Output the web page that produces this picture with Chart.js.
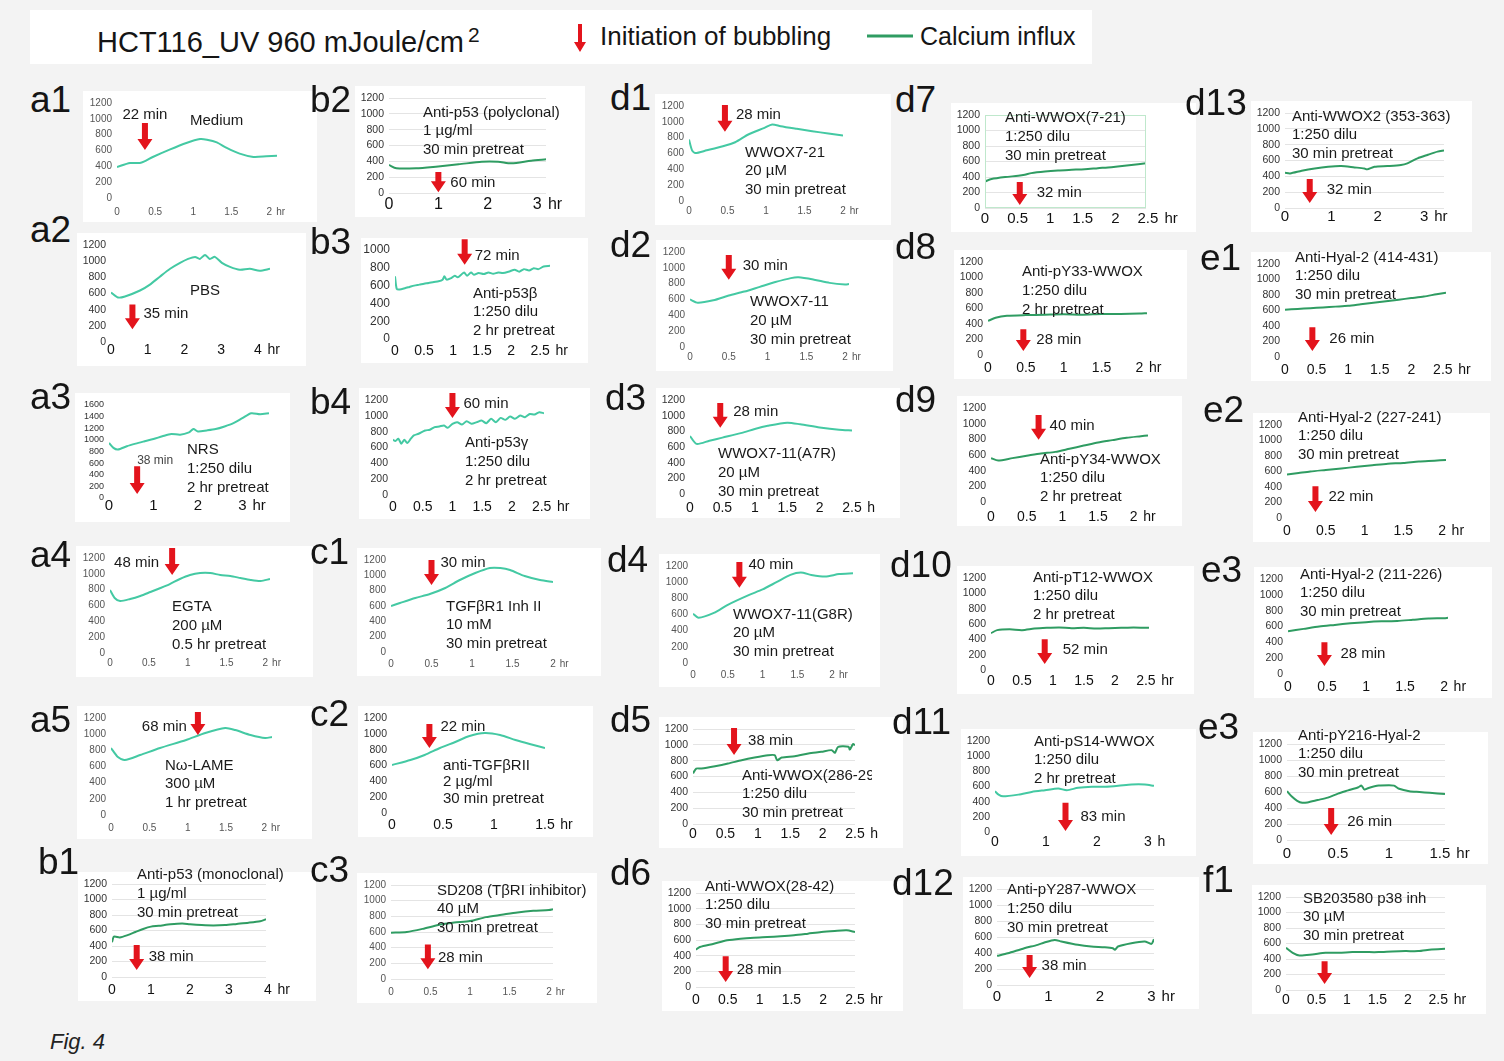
<!DOCTYPE html>
<html><head><meta charset="utf-8">
<script src="https://cdn.jsdelivr.net/npm/chart.js@4.4.1/dist/chart.umd.min.js"></script>
<style>
body{margin:0;width:1504px;height:1061px;background:#f3f3f3;position:relative;overflow:hidden;font-family:"Liberation Sans",Arial,sans-serif;color:#151515}
.card{position:absolute;background:#fff}
.lab{position:absolute;font-size:37px;line-height:37px;color:#151515}
.note{position:absolute;font-size:15px;white-space:nowrap;color:#1a1a1a;overflow:hidden}
canvas{position:absolute}
#head{position:absolute;left:30px;top:10px;width:1062px;height:54px;background:#fff}
</style></head><body>
<div id="head"></div>
<div style="position:absolute;left:97px;top:17px;font-size:29px;line-height:36px">HCT116_UV 960 mJoule/cm<sup style="font-size:21px;vertical-align:10px;margin-left:4px">2</sup></div>
<svg style="position:absolute;left:570px;top:22px" width="20" height="32"><path d="M8 2 H12 V20 H16 L10 30 L4 20 H8 Z" fill="#e3141c"/></svg>
<div style="position:absolute;left:600px;top:20px;font-size:26px;line-height:32px">Initiation of bubbling</div>
<svg style="position:absolute;left:866px;top:30px" width="48" height="12"><line x1="1" y1="6" x2="47" y2="6" stroke="#2f9c62" stroke-width="3"/></svg>
<div style="position:absolute;left:920px;top:20px;font-size:25px;line-height:32px">Calcium influx</div>
<div style="position:absolute;left:50px;top:1029px;font-size:22px;font-style:italic;color:#222">Fig. 4</div>
<script>
// ---------- calcium influx traces: time (hr) and fluorescence ----------
const a1Hr = [0,0.17,0.3,0.36,0.47,0.69,0.91,1.09,1.18,1.31,1.44,1.61,1.79,1.96,2.1];
const a1Ca = [392,442,442,463,518,611,695,745,737,703,632,560,518,526,535];
const a2Hr = [0,0.19,0.38,0.79,1.06,1.33,1.61,1.88,2.1,2.29,2.42,2.56,2.69,2.83,3.02,3.24,3.51,3.78,4.05,4.33];
const a2Ca = [612,551,563,637,710,808,906,979,1028,1053,1028,1077,1028,1053,979,930,894,906,881,906];
const a3Hr = [0,0.1,0.2,0.4,0.6,0.8,1.0,1.2,1.4,1.6,1.8,1.9,2.0,2.2,2.4,2.6,2.8,3.0,3.2,3.4,3.6];
const a3Ca = [947,862,834,891,936,976,1015,1061,1101,1089,1129,1186,1146,1163,1186,1231,1288,1373,1458,1441,1458];
const a4Hr = [0,0.06,0.13,0.26,0.39,0.52,0.65,0.77,0.9,1.03,1.16,1.29,1.42,1.55,1.68,1.81,1.94,2.06];
const a4Ca = [796,695,657,682,720,770,821,871,935,985,1010,1010,985,973,947,922,909,935];
const a5Hr = [0,0.09,0.18,0.38,0.64,0.98,1.23,1.49,1.62,1.82,2.01,2.1];
const a5Ca = [829,717,680,742,829,928,1014,1076,1051,990,952,965];
const b1Hr = [0,0.05,0.2,0.4,0.6,0.8,1.0,1.2,1.5,1.8,2.0,2.3,2.6,2.9,3.2,3.5,3.8,3.95];
const b1Ca = [450,520,510,540,580,620,650,660,680,690,680,670,665,670,685,700,720,745];
const b2Hr = [0,0.15,0.55,0.95,1.41,1.88,2.21,2.48,2.88,3.18];
const b2Ca = [354,312,312,333,362,396,396,375,408,425];
const b3Hr = [0,0.03,0.08,0.17,0.25,0.33,0.42,0.5,0.58,0.67,0.75,0.82,0.85,0.89,0.97,1.03,1.08,1.14,1.19,1.24,1.31,1.36,1.44,1.53,1.61,1.69,1.78,1.86,1.97,2.06,2.14,2.22,2.31,2.39,2.47,2.56,2.67];
const b3Ca = [704,563,556,570,585,600,611,622,630,641,648,667,704,667,685,711,693,722,748,711,748,722,741,730,748,733,748,741,759,778,756,785,770,796,785,815,822];
const b4Hr = [0,0.04,0.09,0.14,0.19,0.24,0.3,0.35,0.43,0.54,0.62,0.7,0.78,0.86,0.92,1.0,1.08,1.16,1.24,1.32,1.41,1.49,1.57,1.65,1.73,1.81,1.89,1.97,2.05,2.14,2.22,2.3,2.38,2.46,2.54];
const b4Ca = [698,681,711,648,698,656,711,753,774,815,824,857,866,878,849,899,920,890,932,899,920,941,907,962,920,974,949,991,962,1003,983,1024,1016,1045,1033];
const c1Hr = [0,0.11,0.3,0.48,0.67,0.85,1.04,1.22,1.35,1.47,1.65,1.84,2.0];
const c1Ca = [600,639,704,756,835,939,1030,1095,1095,1069,991,939,913];
const c2Hr = [0,0.18,0.32,0.47,0.62,0.76,0.91,1.06,1.21,1.35,1.5];
const c2Ca = [606,669,733,821,897,972,1010,985,922,871,821];
const c3Hr = [0,0.2,0.4,0.6,0.8,1.0,1.2,1.4,1.6,1.8,2.0,2.05];
const c3Ca = [590,600,640,690,720,740,790,820,850,870,880,890];
const d1Hr = [0,0.04,0.083,0.23,0.44,0.6,0.77,0.98,1.08,1.19,1.4,1.6,1.81,2.0];
const d1Ca = [776,640,606,640,691,742,840,924,967,945,912,882,852,827];
const d2Hr = [0,0.1,0.3,0.5,0.7,0.9,1.1,1.3,1.4,1.6,1.8,2.0,2.05];
const d2Ca = [600,560,590,650,700,760,820,870,880,850,810,790,795];
const d3Hr = [0,0.1,0.3,0.5,0.8,1.0,1.2,1.5,1.7,2.0,2.3,2.5];
const d3Ca = [740,640,680,720,780,830,870,910,890,850,820,810];
const d4Hr = [0,0.08,0.3,0.5,0.8,1.0,1.2,1.4,1.55,1.7,1.9,2.1,2.3];
const d4Ca = [610,560,620,720,840,910,1000,1090,1120,1090,1070,1100,1110];
const d5Hr = [0,0.05,0.13,0.34,0.54,0.75,0.95,1.16,1.26,1.3,1.37,1.57,1.78,1.98,2.14,2.19,2.24,2.4,2.42,2.47,2.5];
const d5Ca = [640,700,700,729,763,806,840,869,869,806,840,857,891,912,933,899,975,975,941,1009,996];
const d6Hr = [0,0.06,0.28,0.49,0.7,0.91,1.12,1.33,1.54,1.76,1.97,2.18,2.37,2.5];
const d6Ca = [477,511,553,596,617,630,638,647,660,681,702,715,723,702];
const d7Hr = [0,0.1,0.31,0.51,0.61,0.71,0.92,1.12,1.33,1.53,1.73,1.94,2.14,2.35,2.47];
const d7Ca = [343,373,399,416,429,450,471,484,493,501,514,527,544,566,579];
const d8Hr = [0,0.1,0.25,0.5,0.75,1.0,1.25,1.5,1.75,2.0,2.1];
const d8Ca = [440,480,505,515,520,525,520,530,530,535,540];
const d9Hr = [0,0.1,0.3,0.5,0.7,0.9,1.1,1.3,1.5,1.7,1.9,2.1,2.2];
const d9Ca = [560,530,560,590,620,640,680,720,760,790,820,840,850];
const d10Hr = [0,0.1,0.3,0.5,0.7,0.9,1.1,1.3,1.5,1.7,1.9,2.1,2.3,2.55];
const d10Ca = [480,520,530,520,540,550,555,545,550,540,545,550,555,550];
const d11Hr = [0,0.07,0.16,0.46,0.72,0.98,1.24,1.41,1.63,1.9,2.16,2.42,2.68,2.94,3.12];
const d11Ca = [537,493,470,493,528,551,573,551,582,596,596,609,627,627,609];
const d12Hr = [0,0.21,0.53,0.79,0.92,1.12,1.25,1.57,1.83,2.09,2.25,2.29,2.35,2.61,2.87,3.0,3.05];
const d12Ca = [364,397,460,502,531,564,544,502,481,472,460,440,481,523,544,514,573];
const d13Hr = [0,0.11,0.36,0.64,0.93,1.21,1.5,1.71,1.77,1.93,2.21,2.5,2.64,2.86,3.07,3.29,3.43];
const d13Ca = [445,437,471,500,521,530,513,500,488,521,530,543,564,627,670,712,725];
const e1Hr = [0,0.2,0.4,0.6,0.8,1.0,1.2,1.4,1.6,1.8,2.0,2.2,2.4,2.55];
const e1Ca = [610,620,630,640,650,660,680,700,720,740,760,780,810,830];
const e2Hr = [0,0.15,0.3,0.5,0.7,0.9,1.1,1.3,1.5,1.7,1.9,2.05];
const e2Ca = [560,580,600,620,640,660,680,700,710,730,740,750];
const e3Hr = [0,0.2,0.4,0.6,0.8,1.0,1.2,1.4,1.6,1.8,2.0,2.05];
const e3Ca = [540,570,600,620,640,655,665,670,685,700,705,710];
const e3bHr = [0,0.05,0.1,0.15,0.2,0.3,0.4,0.5,0.6,0.7,0.73,0.76,0.8,0.9,1.0,1.05,1.1,1.2,1.3,1.4,1.55];
const e3bCa = [610,540,490,465,470,500,530,580,620,660,680,630,650,680,685,680,640,610,600,590,575];
const f1Hr = [0,0.11,0.22,0.43,0.65,0.87,1.09,1.3,1.52,1.74,1.96,2.17,2.39,2.61];
const f1Ca = [545,480,445,458,480,480,489,489,489,497,502,502,524,532];

// ---------- x-axis tick values (hr) ----------
const T15 = [0,0.5,1,1.5];
const T2 = [0,0.5,1,1.5,2];
const T25 = [0,0.5,1,1.5,2,2.5];
const T3 = [0,1,2,3];
const T4 = [0,1,2,3,4];

// ---------- onset of membrane bubbling (min) ----------
const BUBBLING_MIN = [22,35,38,48,68,38, 60,72,60,30,22,28, 28,30,28,40,38,28, 32,28,40,52,83,38, 32,26,22,28,26,38];
const SHOW_MIN = BUBBLING_MIN.map((m, i) => i !== 29);

// ---------- treatment notes ----------
const NOTES = [
  ['Medium'], ['PBS'], ['NRS','1:250 dilu','2 hr pretreat'], ['EGTA','200 \u00b5M','0.5 hr pretreat'],
  ['N\u03c9-LAME','300 \u00b5M','1 hr pretreat'], ['Anti-p53 (monoclonal)','1 \u00b5g/ml','30 min pretreat'],
  ['Anti-p53 (polyclonal)','1 \u00b5g/ml','30 min pretreat'], ['Anti-p53\u03b2','1:250 dilu','2 hr pretreat'],
  ['Anti-p53\u03b3','1:250 dilu','2 hr pretreat'], ['TGF\u03b2R1 Inh II','10 mM','30 min pretreat'],
  ['anti-TGF\u03b2RII','2 \u00b5g/ml','30 min pretreat'], ['SD208 (T\u03b2RI inhibitor)','40 \u00b5M','30 min pretreat'],
  ['WWOX7-21','20 \u00b5M','30 min pretreat'], ['WWOX7-11','20 \u00b5M','30 min pretreat'],
  ['WWOX7-11(A7R)','20 \u00b5M','30 min pretreat'], ['WWOX7-11(G8R)','20 \u00b5M','30 min pretreat'],
  ['Anti-WWOX(286-299)','1:250 dilu','30 min pretreat'], ['Anti-WWOX(28-42)','1:250 dilu','30 min pretreat'],
  ['Anti-WWOX(7-21)','1:250 dilu','30 min pretreat'], ['Anti-pY33-WWOX','1:250 dilu','2 hr pretreat'],
  ['Anti-pY34-WWOX','1:250 dilu','2 hr pretreat'], ['Anti-pT12-WWOX','1:250 dilu','2 hr pretreat'],
  ['Anti-pS14-WWOX','1:250 dilu','2 hr pretreat'], ['Anti-pY287-WWOX','1:250 dilu','30 min pretreat'],
  ['Anti-WWOX2 (353-363)','1:250 dilu','30 min pretreat'], ['Anti-Hyal-2 (414-431)','1:250 dilu','30 min pretreat'],
  ['Anti-Hyal-2 (227-241)','1:250 dilu','30 min pretreat'], ['Anti-Hyal-2 (211-226)','1:250 dilu','30 min pretreat'],
  ['Anti-pY216-Hyal-2','1:250 dilu','30 min pretreat'], ['SB203580 p38 inh','30 \u00b5M','30 min pretreat']
];

// ---------- panel layout ----------
const TEAL = '#44c9a3', GREEN = '#2f9c62';
const SMALL = {xs:10, xcol:'#555', ys:10, ycol:'#555'};
const BIG = {xs:14, xcol:'#111', ys:10.5, ycol:'#333'};
const L = (o, st) => Object.assign({yMax:1200, unit:'hr', grid:false, ns:18.5, col:TEAL}, st, o);
const PANELS = [
  L({lab:'a1',lx:30,ly:100,x0:117,xEnd:269,y0:198,yTop:103,xt:T2,xc:212,hr:a1Hr,ca:a1Ca,av:[947,606],ml:[0,-8,'center'],nx:190,ny:120}, SMALL),
  L({lab:'a2',lx:30,ly:230,x0:111,xEnd:258,y0:342,yTop:245,xt:T4,xc:350,hr:a2Hr,ca:a2Ca,av:[465,159],ml:[11,9,'left'],nx:190,ny:290}, BIG),
  L({lab:'a3',lx:30,ly:397,x0:109,xEnd:242,y0:498,yTop:405,yMax:1600,xt:T3,xc:506,xs:15,ys:9,hr:a3Hr,ca:a3Ca,av:[545,68],ml:[0,-6,'left',12,'#444'],nx:187,ny:448,ns:19}, BIG),
  L({lab:'a4',lx:30,ly:555,x0:110,xEnd:265,y0:653,yTop:558,xt:T2,xc:663,hr:a4Hr,ca:a4Ca,av:[1326,985],ml:[-13,15,'right'],nx:172,ny:605,ns:19}, SMALL),
  L({lab:'a5',lx:30,ly:720,x0:111,xEnd:264,y0:815,yTop:718,xt:T2,xc:828,hr:a5Hr,ca:a5Ca,av:[1274,990],ml:[-11,15,'right'],nx:165,ny:765}, SMALL),
  L({lab:'b1',lx:38,ly:862,x0:112,xEnd:268,y0:977,yTop:884,xt:T4,xc:990,hr:b1Hr,ca:b1Ca,av:[413,90],ml:[12,12,'left'],nx:137,ny:873,ns:19,col:GREEN,grid:true}, BIG),
  L({lab:'b2',lx:310,ly:100,x0:389,xEnd:537,y0:193,yTop:98,xt:T3,xc:205,xs:16,hr:b2Hr,ca:b2Ca,av:[265,10],ml:[12,11,'left'],nx:423,ny:112,col:GREEN,grid:true}, BIG),
  L({lab:'b3',lx:310,ly:242,x0:395,xEnd:540,y0:339,yTop:250,yMax:1000,xt:T25,xc:351,ys:12,hr:b3Hr,ca:b3Ca,av:[1122,833],ml:[10,17,'left'],nx:473,ny:293}, BIG),
  L({lab:'b4',lx:310,ly:402,x0:393,xEnd:542,y0:495,yTop:400,xt:T25,xc:507,hr:b4Hr,ca:b4Ca,av:[1288,973],ml:[11,11,'left'],nx:465,ny:441,ns:19}, BIG),
  L({lab:'c1',lx:310,ly:552,x0:391,xEnd:553,y0:652,yTop:560,xt:T2,xc:664,hr:c1Hr,ca:c1Ca,av:[1200,874],ml:[9,3,'left'],nx:446,ny:606}, SMALL),
  L({lab:'c2',lx:310,ly:714,x0:392,xEnd:545,y0:813,yTop:718,xt:T15,xc:825,hr:c2Hr,ca:c2Ca,av:[1124,821],ml:[11,3,'left'],nx:443,ny:765,ns:16.5}, BIG),
  L({lab:'c3',lx:310,ly:870,x0:391,xEnd:549,y0:979,yTop:885,xt:T2,xc:992,hr:c3Hr,ca:c3Ca,av:[442,126],ml:[10,13,'left'],nx:437,ny:890,col:GREEN,grid:true}, SMALL),
  L({lab:'d1',lx:610,ly:98,x0:689,xEnd:843,y0:201,yTop:106,xt:T2,xc:211,hr:d1Hr,ca:d1Ca,av:[1212,875],ml:[11,10,'left'],nx:745,ny:152}, SMALL),
  L({lab:'d2',lx:610,ly:245,x0:690,xEnd:845,y0:347,yTop:252,xt:T2,xc:357,hr:d2Hr,ca:d2Ca,av:[1162,850],ml:[14,11,'left'],nx:750,ny:300,ns:19}, SMALL),
  L({lab:'d3',lx:605,ly:398,x0:690,xEnd:852,y0:494,yTop:400,xt:T25,xc:508,unit:'h',hr:d3Hr,ca:d3Ca,av:[1162,846],ml:[13,9,'left'],nx:718,ny:452,ns:19}, BIG),
  L({lab:'d4',lx:607,ly:560,x0:693,xEnd:832,y0:663,yTop:566,xt:T2,xc:675,hr:d4Hr,ca:d4Ca,av:[1249,931],ml:[9,3,'left'],nx:733,ny:614}, SMALL),
  L({lab:'d5',lx:610,ly:720,x0:693,xEnd:855,y0:824,yTop:729,xt:T25,xc:834,unit:'h',hr:d5Hr,ca:d5Ca,av:[1213,872],ml:[14,13,'left'],nx:742,ny:775,clip:872,col:GREEN,grid:true}, BIG),
  L({lab:'d6',lx:610,ly:873,x0:696,xEnd:855,y0:987,yTop:893,xt:T25,xc:1000,hr:d6Hr,ca:d6Ca,av:[392,63],ml:[11,14,'left'],nx:705,ny:886,col:GREEN,grid:true}, BIG),
  L({lab:'d7',lx:895,ly:100,x0:985,xEnd:1148,y0:208,yTop:115,xt:T25,xc:219,xs:15,hr:d7Hr,ca:d7Ca,av:[335,39],ml:[17,11,'left'],nx:1005,ny:116,ns:19,col:GREEN,grid:true,frame:true}, BIG),
  L({lab:'d8',lx:895,ly:247,x0:988,xEnd:1139,y0:355,yTop:262,xt:T2,xc:368,hr:d8Hr,ca:d8Ca,av:[332,51],ml:[13,11,'left'],nx:1022,ny:270,ns:19,col:GREEN}, BIG),
  L({lab:'d9',lx:895,ly:400,x0:991,xEnd:1134,y0:502,yTop:408,xt:T2,xc:517,hr:d9Hr,ca:d9Ca,av:[1112,796],ml:[11,11,'left'],nx:1040,ny:459,col:GREEN}, BIG),
  L({lab:'d10',lx:890,ly:565,x0:991,xEnd:1146,y0:670,yTop:578,xt:T25,xc:681,hr:d10Hr,ca:d10Ca,av:[400,77],ml:[18,11,'left'],nx:1033,ny:577,col:GREEN}, BIG),
  L({lab:'d11',lx:892,ly:722,x0:995,xEnd:1148,y0:832,yTop:741,xt:T3,xc:842,unit:'h',hr:d11Hr,ca:d11Ca,av:[387,13],ml:[15,14,'left'],nx:1034,ny:741}, BIG),
  L({lab:'d12',lx:892,ly:883,x0:997,xEnd:1151,y0:985,yTop:889,xt:T3,xc:997,xs:15,hr:d12Hr,ca:d12Ca,av:[375,88],ml:[12,11,'left'],nx:1007,ny:888,ns:19,col:GREEN,grid:true}, BIG),
  L({lab:'d13',lx:1185,ly:103,x0:1285,xEnd:1424,y0:208,yTop:113,xt:T3,xc:217,xs:15,hr:d13Hr,ca:d13Ca,av:[366,63],ml:[17,11,'left'],nx:1292,ny:116,col:GREEN,grid:true}, BIG),
  L({lab:'e1',lx:1200,ly:258,x0:1285,xEnd:1443,y0:357,yTop:264,xt:T25,xc:370,hr:e1Hr,ca:e1Ca,av:[383,77],ml:[17,12,'left'],nx:1295,ny:257,col:GREEN}, BIG),
  L({lab:'e2',lx:1203,ly:410,x0:1287,xEnd:1442,y0:518,yTop:425,xt:T2,xc:531,hr:e2Hr,ca:e2Ca,av:[409,77],ml:[13,11,'left'],nx:1298,ny:417,col:GREEN}, BIG),
  L({lab:'e3',lx:1201,ly:570,x0:1288,xEnd:1444,y0:674,yTop:579,xt:T2,xc:687,hr:e3Hr,ca:e3Ca,av:[400,100],ml:[16,12,'left'],nx:1300,ny:574,col:GREEN}, BIG),
  L({lab:'e3',lx:1198,ly:727,x0:1287,xEnd:1440,y0:840,yTop:744,xt:T15,xc:854,xs:15,hr:e3bHr,ca:e3bCa,av:[400,63],ml:[16,14,'left'],nx:1298,ny:735,col:GREEN,grid:true}, BIG),
  L({lab:'f1',lx:1203,ly:880,x0:1286,xEnd:1438,y0:990,yTop:897,xt:T25,xc:1000,hr:f1Hr,ca:f1Ca,av:[370,77],ml:null,nx:1303,ny:898,col:GREEN,grid:true}, BIG)
];

const PAD_T = 30, PAD_R = 42, Y_W = 42, X_H = 34;
const FONT = '"Liberation Sans", Arial, sans-serif';

function drawArrow(ctx, x, yt, yb) {
  const sw = 3, hw = 7.5, hl = 11;
  ctx.beginPath();
  ctx.moveTo(x - sw, yt); ctx.lineTo(x + sw, yt); ctx.lineTo(x + sw, yb - hl);
  ctx.lineTo(x + hw, yb - hl); ctx.lineTo(x, yb); ctx.lineTo(x - hw, yb - hl);
  ctx.lineTo(x - sw, yb - hl); ctx.closePath();
  ctx.fillStyle = '#e3141c'; ctx.fill();
}

// draws the axis unit, the bubbling arrow with its time label and optional plot frame
const panelExtras = {
  id: 'panelExtras',
  afterDraw(chart, args, opts) {
    const p = PANELS[opts.index];
    const {ctx, chartArea} = chart;
    const xs = chart.scales.x, ys = chart.scales.y;
    ctx.save();
    if (p.frame) {
      ctx.strokeStyle = '#bfe8cc'; ctx.lineWidth = 1;
      ctx.strokeRect(chartArea.left + 0.5, chartArea.top + 0.5, chartArea.right - chartArea.left - 1, chartArea.bottom - chartArea.top - 1);
    }
    const last = p.xt[p.xt.length - 1];
    ctx.font = p.xs + 'px ' + FONT;
    ctx.fillStyle = p.xcol; ctx.textBaseline = 'middle'; ctx.textAlign = 'left';
    const lastW = ctx.measureText(String(last)).width;
    ctx.fillText(p.unit, xs.getPixelForValue(last) + lastW / 2 + p.xs * 0.4, chartArea.bottom + (p.xc - p.y0));
    const m = BUBBLING_MIN[opts.index];
    const ax = xs.getPixelForValue(m / 60);
    const yt = ys.getPixelForValue(p.av[0]), yb = ys.getPixelForValue(p.av[1]);
    drawArrow(ctx, ax, yt, yb);
    if (SHOW_MIN[opts.index] && p.ml) {
      const [dx, dy, al, fs, fc] = p.ml;
      ctx.font = (fs || 15) + 'px ' + FONT;
      ctx.fillStyle = fc || '#1a1a1a'; ctx.textAlign = al; ctx.textBaseline = 'middle';
      ctx.fillText(m + ' min', ax + dx, yt + dy);
    }
    ctx.restore();
  }
};

PANELS.forEach((p, i) => {
  const last = p.xt[p.xt.length - 1];
  const pxPerHr = (p.xEnd - p.x0) / last;
  const xMax = Math.max(...p.hr);
  const W = Math.round(Y_W + xMax * pxPerHr + PAD_R);
  const H = Math.round(PAD_T + (p.y0 - p.yTop) + X_H);

  const card = document.createElement('div');
  card.className = 'card';
  card.style.left = (p.x0 - 34) + 'px';
  card.style.top = (p.yTop - 12) + 'px';
  card.style.width = (p.xEnd - p.x0 + 82) + 'px';
  card.style.height = (p.y0 - p.yTop + 36) + 'px';
  document.body.appendChild(card);

  const lab = document.createElement('div');
  lab.className = 'lab'; lab.textContent = p.lab;
  lab.style.left = p.lx + 'px'; lab.style.top = (p.ly - 19) + 'px';
  document.body.appendChild(lab);

  const cv = document.createElement('canvas');
  cv.width = W; cv.height = H;
  cv.style.width = W + 'px'; cv.style.height = H + 'px';
  cv.style.left = (p.x0 - Y_W) + 'px'; cv.style.top = (p.yTop - PAD_T) + 'px';
  document.body.appendChild(cv);

  new Chart(cv, {
    type: 'line',
    data: {datasets: [{
      data: p.hr.map((h, k) => ({x: h, y: p.ca[k]})),
      borderColor: p.col, borderWidth: 2, pointRadius: 0, tension: 0.25, fill: false
    }]},
    options: {
      responsive: false, animation: false, events: [],
      layout: {padding: {top: PAD_T, right: PAD_R, left: 0, bottom: 0}},
      plugins: {legend: {display: false}, tooltip: {enabled: false}, panelExtras: {index: i}},
      scales: {
        x: {
          type: 'linear', min: 0, max: xMax,
          afterBuildTicks: s => { s.ticks = p.xt.map(v => ({value: v})); },
          afterFit: s => { s.height = X_H; },
          grid: {display: false, drawTicks: false}, border: {display: false},
          ticks: {padding: p.xc - p.y0 - 0.6 * p.xs, color: p.xcol, font: {family: FONT, size: p.xs}, maxRotation: 0, autoSkip: false, callback: v => String(v)}
        },
        y: {
          min: 0, max: p.yMax,
          afterFit: s => { s.width = Y_W; },
          grid: {display: p.grid, drawTicks: false, color: '#e4e4e4', lineWidth: 1}, border: {display: false},
          ticks: {stepSize: 200, autoSkip: false, padding: 5, color: p.ycol, font: {family: FONT, size: p.ys}, callback: v => String(v)}
        }
      }
    },
    plugins: [panelExtras]
  });

  const note = document.createElement('div');
  note.className = 'note';
  note.style.left = p.nx + 'px';
  note.style.top = (p.ny - p.ns / 2) + 'px';
  note.style.lineHeight = p.ns + 'px';
  if (p.clip) note.style.width = (p.clip - p.nx) + 'px';
  NOTES[i].forEach(t => { const d = document.createElement('div'); d.textContent = t; note.appendChild(d); });
  document.body.appendChild(note);
});
</script>
</body></html>
